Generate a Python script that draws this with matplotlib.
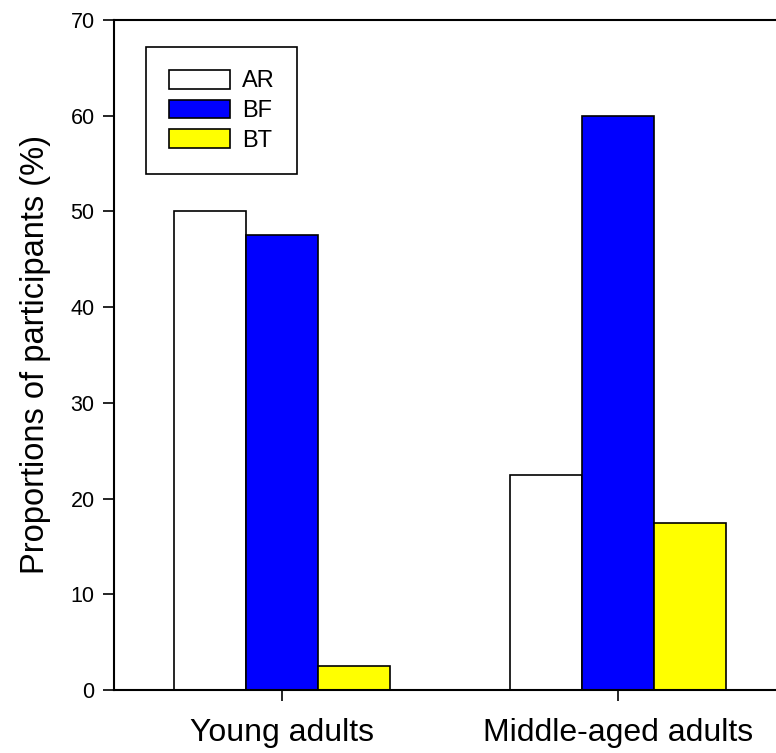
import matplotlib.pyplot as plt
import numpy as np

plt.rcParams['font.family'] = ['Liberation Sans', 'DejaVu Sans']

groups = ["Young adults", "Middle-aged adults"]
series = ["AR", "BF", "BT"]
ar = [50.0, 22.5]
bf = [47.5, 60.0]
bt = [2.5, 17.5]
colors = ["white", "#0000ff", "#ffff00"]

fig = plt.figure(figsize=(7.76, 7.53), dpi=100)
W, H = 776, 753
# right edge of the frame runs past the canvas
ax = fig.add_axes([114 / W, 63 / H, (786 - 114) / W, (690 - 20) / H])

x = np.arange(len(groups))
width = 0.2143
for i, (vals, c, name) in enumerate(zip([ar, bf, bt], colors, series)):
    ax.bar(x + (i - 1) * width, vals, width, color=c, edgecolor="black",
           linewidth=1.2, label=name)

ax.set_xlim(-0.5, 1.5)
ax.set_ylim(0, 70)
ax.set_yticks(np.arange(0, 71, 10))
ax.set_xticks(x)
ax.set_xticklabels(groups, fontsize=23)
ax.tick_params(axis="y", labelsize=15.5, length=8, width=1.2, pad=6)
ax.tick_params(axis="x", length=8, width=1.2, pad=12)
for s in ax.spines.values():
    s.set_linewidth(1.5)
ax.set_ylabel("Proportions of participants (%)", fontsize=23.5, labelpad=14)

leg = ax.legend(loc="upper left", bbox_to_anchor=(0.048, 0.959), fontsize=17,
                fancybox=False, edgecolor="black", framealpha=1,
                handlelength=2.6, handleheight=0.85, handletextpad=0.5,
                labelspacing=0.3, borderpad=0.95, borderaxespad=0)
leg.get_frame().set_linewidth(1.2)

fig.savefig("out.png", dpi=100)
